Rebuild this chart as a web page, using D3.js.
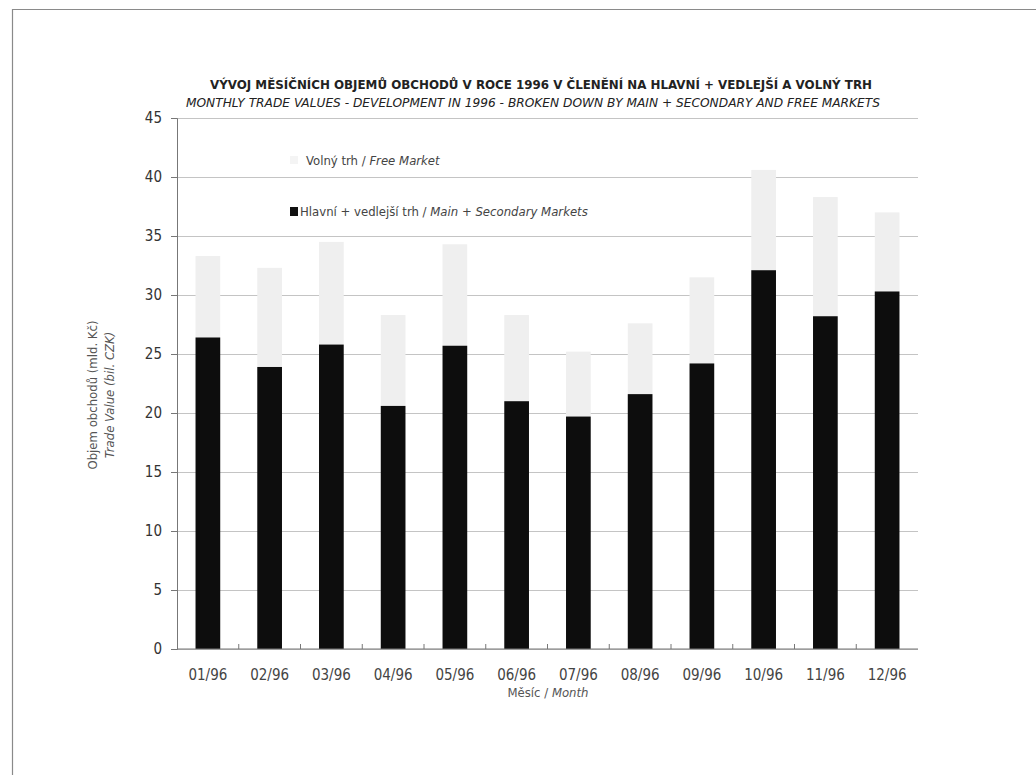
<!DOCTYPE html>
<html><head><meta charset="utf-8">
<script src="https://cdn.jsdelivr.net/npm/d3@7"></script>
<style>
body{margin:0;background:#fff;}
text{font-family:"DejaVu Sans Condensed","DejaVu Sans","Liberation Sans Narrow",sans-serif;font-stretch:condensed;}
</style></head>
<body><svg id="c" width="1036" height="775"></svg>
<script>
const months = ["01/96","02/96","03/96","04/96","05/96","06/96","07/96","08/96","09/96","10/96","11/96","12/96"];
const mainSecondary = [26.4, 23.9, 25.8, 20.6, 25.7, 21.0, 19.7, 21.6, 24.2, 32.1, 28.2, 30.3];
const freeMarket = [6.9, 8.4, 8.7, 7.7, 8.6, 7.3, 5.5, 6.0, 7.3, 8.5, 10.1, 6.7];
const yTicks = [0,5,10,15,20,25,30,35,40,45];
const titleCz = "VÝVOJ MĚSÍČNÍCH OBJEMŮ OBCHODŮ V ROCE 1996 V ČLENĚNÍ NA HLAVNÍ + VEDLEJŠÍ A VOLNÝ TRH";
const titleEn = "MONTHLY TRADE VALUES - DEVELOPMENT IN 1996 - BROKEN DOWN BY MAIN + SECONDARY AND FREE MARKETS";

const svg = d3.select("#c");
const W=1036,H=775;
svg.append("rect").attr("width",W).attr("height",H).attr("fill","#fff");
// frame
svg.append("path").attr("d","M12.5,775 L12.5,9.5 L1036,9.5").attr("fill","none").attr("stroke","#8a8a8a").attr("stroke-width",1.2);

const x0=177,x1=918,yTop=118,yBot=649;
const x = d3.scaleBand().domain(months).range([x0,x1]).paddingInner(0.6).paddingOuter(0.3);
const y = d3.scaleLinear().domain([0,45]).range([yBot,yTop]);

// gridlines
const gy = svg.append("g").attr("transform",`translate(${x0},0)`)
  .call(d3.axisLeft(y).tickValues(yTicks).tickSize(-(x1-x0)).tickFormat(""));
gy.select(".domain").remove();
gy.selectAll(".tick line").attr("stroke","#c4c4c4").attr("stroke-width",1);

// y axis
const ya = svg.append("g").attr("transform",`translate(${x0},0)`)
  .call(d3.axisLeft(y).tickValues(yTicks).tickSize(6).tickPadding(9));
ya.select(".domain").attr("stroke","#777");
ya.selectAll(".tick line").attr("stroke","#777");
ya.selectAll(".tick text").attr("font-size",15).attr("fill","#333");

const stack = months.map((m,i)=>({m, main:mainSecondary[i], free:freeMarket[i]}));
svg.append("g").selectAll("rect.f").data(stack).join("rect")
  .attr("x",d=>x(d.m)).attr("width",x.bandwidth())
  .attr("y",d=>y(d.main+d.free)).attr("height",d=>y(d.main)-y(d.main+d.free))
  .attr("fill","#efefef");
svg.append("g").selectAll("rect.m").data(stack).join("rect")
  .attr("x",d=>x(d.m)).attr("width",x.bandwidth())
  .attr("y",d=>y(d.main)).attr("height",d=>y(0)-y(d.main))
  .attr("fill","#0d0d0d");

// x axis
const xa = svg.append("g").attr("transform",`translate(0,${yBot})`)
  .call(d3.axisBottom(x).tickSize(0).tickPadding(20));
xa.select(".domain").attr("stroke","#777").attr("d",`M${x0},0H${x1}`);
xa.selectAll(".tick text").attr("font-size",15).attr("fill","#444");
const bounds = months.slice(1).map(m=>x(m)-x.step()*x.paddingInner()/2);
xa.selectAll("line.bt").data(bounds).join("line").attr("class","bt")
  .attr("x1",d=>d).attr("x2",d=>d).attr("y1",0).attr("y2",-5).attr("stroke","#777");

// titles
svg.append("text").attr("x",541).attr("y",89).attr("text-anchor","middle")
  .attr("font-size",13).attr("font-weight","bold").attr("fill","#222").attr("textLength",662).attr("lengthAdjust","spacingAndGlyphs").text(titleCz);
svg.append("text").attr("x",533).attr("y",107).attr("text-anchor","middle")
  .attr("font-size",13).attr("font-style","italic").attr("fill","#222").attr("textLength",694).attr("lengthAdjust","spacingAndGlyphs").text(titleEn);

// y label
const yl = svg.append("g").attr("transform","translate(97,395) rotate(-90)");
yl.append("text").attr("text-anchor","middle").attr("font-size",13).attr("fill","#555").text("Objem obchodů (mld. Kč)");
yl.append("text").attr("y",17).attr("text-anchor","middle").attr("font-size",13).attr("font-style","italic").attr("fill","#555").text("Trade Value (bil. CZK)");

// x label
const xl = svg.append("text").attr("x",548).attr("y",697).attr("text-anchor","middle").attr("font-size",13).attr("fill","#555");
xl.append("tspan").text("Měsíc / ");
xl.append("tspan").attr("font-style","italic").text("Month");

// legend
const lg = svg.append("g");
lg.append("rect").attr("x",290).attr("y",156).attr("width",8).attr("height",8).attr("fill","#f4f4f4");
const t1 = lg.append("text").attr("x",306).attr("y",165).attr("font-size",13).attr("fill","#444");
t1.append("tspan").text("Volný trh / ");
t1.append("tspan").attr("font-style","italic").text("Free Market");
lg.append("rect").attr("x",290).attr("y",207).attr("width",8).attr("height",9).attr("fill","#111");
const t2 = lg.append("text").attr("x",300).attr("y",216).attr("font-size",13).attr("fill","#444");
t2.append("tspan").text("Hlavní + vedlejší trh / ");
t2.append("tspan").attr("font-style","italic").text("Main + Secondary Markets");
</script></body></html>
